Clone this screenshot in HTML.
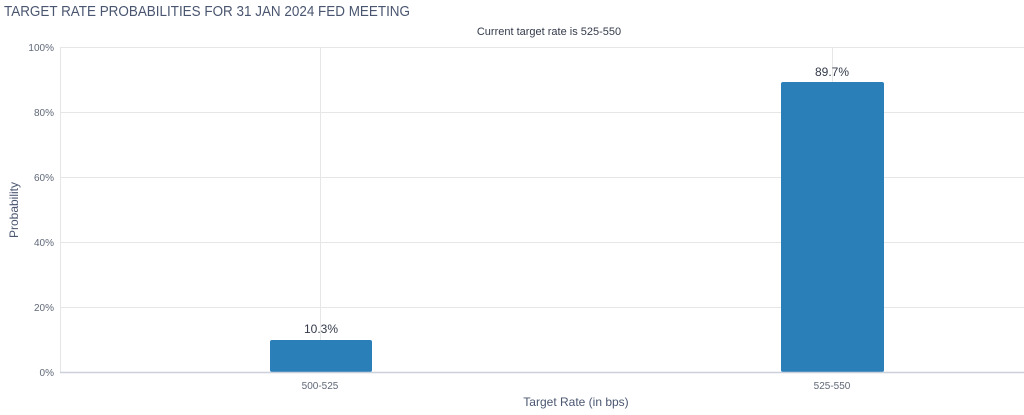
<!DOCTYPE html>
<html><head><style>html,body{margin:0;padding:0;background:#fff;}svg{display:block;}</style></head><body>
<svg width="1024" height="415" xmlns="http://www.w3.org/2000/svg" font-family="'Liberation Sans', sans-serif">
<text x="4" y="16" font-size="14.5" fill="#4a5670" textLength="406" lengthAdjust="spacingAndGlyphs">TARGET RATE PROBABILITIES FOR 31 JAN 2024 FED MEETING</text>
<text x="549" y="35" font-size="11" fill="#333a4a" text-anchor="middle">Current target rate is 525-550</text>
<g stroke="#e6e6e6" stroke-width="1">
<line x1="60" y1="47.5" x2="1024" y2="47.5"/>
<line x1="60" y1="112.5" x2="1024" y2="112.5"/>
<line x1="60" y1="177.5" x2="1024" y2="177.5"/>
<line x1="60" y1="242.5" x2="1024" y2="242.5"/>
<line x1="60" y1="307.5" x2="1024" y2="307.5"/>
<line x1="320.5" y1="47" x2="320.5" y2="372"/>
<line x1="832.5" y1="47" x2="832.5" y2="372"/>
<line x1="60.5" y1="47" x2="60.5" y2="372"/>
</g>
<g font-size="10" fill="#606878" text-anchor="end">
<text x="54" y="51">100%</text><text x="54" y="116">80%</text><text x="54" y="181">60%</text><text x="54" y="246">40%</text><text x="54" y="311">20%</text><text x="54" y="376">0%</text>
</g>
<text transform="translate(18,210) rotate(-90)" font-size="12" fill="#4a5670" text-anchor="middle">Probability</text>
<rect x="270" y="340" width="102" height="32" rx="2" fill="#2a7fb8"/>
<rect x="781" y="82" width="103" height="290" rx="2" fill="#2a7fb8"/>
<line x1="60" y1="372.5" x2="1024" y2="372.5" stroke="#ccd0da" stroke-width="1.5"/>
<text x="321" y="333" font-size="12" fill="#333a4a" text-anchor="middle">10.3%</text>
<text x="832" y="76" font-size="12" fill="#333a4a" text-anchor="middle">89.7%</text>
<g font-size="10" fill="#606878" text-anchor="middle">
<text x="320" y="389">500-525</text><text x="832" y="389">525-550</text>
</g>
<text x="576" y="406" font-size="12" fill="#4a5670" text-anchor="middle">Target Rate (in bps)</text>
</svg>
</body></html>
